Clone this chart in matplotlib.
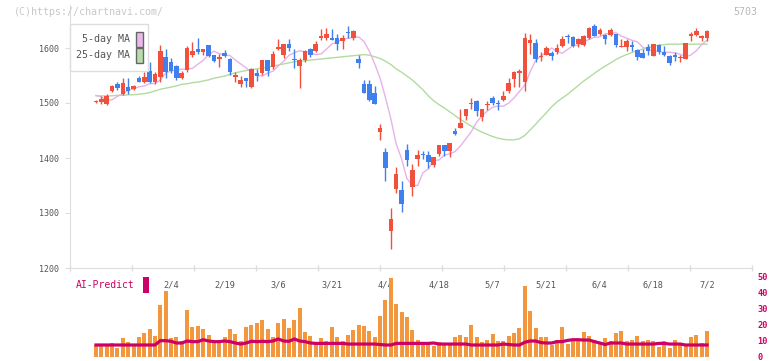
import numpy as np
import matplotlib.pyplot as plt
from matplotlib.patches import Rectangle

plt.rcParams['font.family'] = ['DejaVu Sans Mono']

# daily candles (yen), 2025/1/15 .. 2025/7/2
opens = [1502, 1502, 1498, 1522, 1534, 1516, 1529, 1525, 1545, 1539,
         1558, 1539, 1548, 1584, 1574, 1567, 1545, 1560, 1588, 1599,
         1592, 1605, 1587, 1580, 1591, 1580, 1547, 1535, 1546, 1530,
         1555, 1555, 1578, 1565, 1598, 1587, 1608, 1580, 1568, 1578,
         1599, 1594, 1619, 1619, 1619, 1619, 1613, 1629, 1619, 1580,
         1535, 1535, 1519, 1448, 1411, 1267, 1344, 1341, 1415, 1348,
         1398, 1407, 1405, 1387, 1408, 1424, 1413, 1449, 1455, 1476,
         1498, 1504, 1475, 1497, 1509, 1500, 1505, 1522, 1544, 1554,
         1539, 1610, 1610, 1584, 1588, 1591, 1592, 1604, 1621, 1620,
         1607, 1605, 1619, 1640, 1625, 1624, 1624, 1625, 1603, 1601,
         1605, 1596, 1590, 1601, 1586, 1605, 1592, 1586, 1588, 1581,
         1580, 1621, 1624, 1619, 1619]
highs = [1506, 1512, 1517, 1533, 1539, 1545, 1545, 1533, 1550, 1557,
         1574, 1557, 1605, 1598, 1581, 1570, 1558, 1604, 1611, 1619,
         1599, 1605, 1588, 1590, 1596, 1581, 1557, 1550, 1546, 1563,
         1561, 1579, 1579, 1595, 1617, 1607, 1616, 1598, 1582, 1596,
         1600, 1613, 1634, 1636, 1634, 1625, 1623, 1640, 1633, 1587,
         1542, 1542, 1531, 1461, 1418, 1310, 1384, 1358, 1425, 1389,
         1415, 1412, 1413, 1401, 1424, 1424, 1428, 1454, 1489, 1489,
         1510, 1505, 1489, 1504, 1513, 1505, 1522, 1546, 1558, 1561,
         1628, 1625, 1616, 1592, 1604, 1595, 1607, 1622, 1625, 1622,
         1618, 1623, 1638, 1644, 1636, 1626, 1636, 1625, 1616, 1616,
         1612, 1598, 1599, 1607, 1608, 1608, 1603, 1587, 1593, 1588,
         1610, 1630, 1636, 1624, 1633]
lows = [1500, 1499, 1496, 1520, 1524, 1515, 1516, 1523, 1538, 1537,
        1537, 1534, 1538, 1545, 1554, 1542, 1543, 1557, 1584, 1590,
        1587, 1584, 1575, 1566, 1583, 1551, 1539, 1530, 1530, 1528,
        1540, 1551, 1549, 1561, 1596, 1582, 1595, 1564, 1528, 1575,
        1584, 1593, 1615, 1615, 1615, 1596, 1598, 1618, 1615, 1564,
        1518, 1504, 1498, 1433, 1359, 1235, 1337, 1301, 1386, 1331,
        1386, 1398, 1382, 1384, 1404, 1404, 1402, 1442, 1454, 1469,
        1490, 1476, 1467, 1487, 1497, 1487, 1504, 1518, 1530, 1530,
        1522, 1590, 1575, 1577, 1588, 1578, 1590, 1602, 1609, 1602,
        1601, 1604, 1617, 1621, 1624, 1607, 1622, 1601, 1602, 1595,
        1595, 1578, 1581, 1588, 1586, 1589, 1585, 1570, 1577, 1575,
        1580, 1612, 1621, 1613, 1612]
closes = [1504, 1508, 1513, 1531, 1528, 1536, 1521, 1531, 1539, 1548,
          1539, 1552, 1595, 1557, 1558, 1545, 1555, 1600, 1595, 1592,
          1598, 1586, 1577, 1584, 1586, 1557, 1551, 1542, 1540, 1561,
          1550, 1579, 1559, 1589, 1601, 1607, 1600, 1578, 1579, 1595,
          1587, 1607, 1622, 1625, 1615, 1608, 1619, 1628, 1631, 1573,
          1519, 1505, 1498, 1455, 1382, 1289, 1371, 1316, 1396, 1378,
          1405, 1405, 1393, 1401, 1424, 1413, 1428, 1444, 1464, 1489,
          1500, 1485, 1489, 1498, 1500, 1499, 1513, 1537, 1556, 1558,
          1619, 1615, 1580, 1586, 1600, 1586, 1600, 1616, 1620, 1604,
          1616, 1622, 1636, 1622, 1633, 1616, 1632, 1605, 1604, 1613,
          1602, 1584, 1581, 1595, 1607, 1592, 1587, 1573, 1584, 1583,
          1610, 1625, 1630, 1622, 1630]

# moving averages as drawn on the chart
ma5 = [1514, 1511, 1505, 1506, 1512, 1516.8, 1523.2, 1525.8, 1529.4, 1531,
       1535, 1535.6, 1541.8, 1554.6, 1558.2, 1560.2, 1561.4, 1562, 1563, 1570.6,
       1577.4, 1588, 1594.2, 1589.6, 1587.4, 1586.2, 1578, 1571, 1564, 1555.2,
       1550.2, 1548.8, 1554.4, 1557.8, 1567.6, 1575.6, 1587, 1591.2, 1595, 1593,
       1591.8, 1587.8, 1589.2, 1598, 1607.2, 1611.2, 1615.4, 1617.8, 1619, 1620.2,
       1611.8, 1594, 1571.2, 1545.2, 1510, 1471.8, 1425.8, 1399, 1362.6, 1350.8,
       1350, 1373.2, 1380, 1395.4, 1396.4, 1405.6, 1407.2, 1411.8, 1422, 1434.6,
       1447.6, 1465, 1476.4, 1485.4, 1492.2, 1494.4, 1494.2, 1499.8, 1509.4, 1521,
       1532.6, 1556.6, 1577, 1585.6, 1591.6, 1600, 1593.4, 1590.4, 1597.6, 1604.4,
       1605.2, 1611.2, 1615.6, 1619.6, 1620, 1625.8, 1625.8, 1627.8, 1621.6, 1618,
       1614, 1611.2, 1601.6, 1596.8, 1595, 1593.8, 1591.8, 1592.4, 1590.8, 1588.6,
       1583.8, 1587.4, 1595, 1606.4, 1614]
ma25 = [1513, 1513, 1513, 1513, 1514, 1514, 1515, 1515, 1516, 1517,
        1519, 1522, 1525, 1527, 1529, 1531, 1534, 1535, 1537, 1538,
        1540, 1542, 1545, 1547, 1549, 1552, 1555, 1557, 1559, 1561,
        1562, 1564, 1565, 1567, 1569, 1571, 1573, 1575, 1576, 1577,
        1578, 1579, 1580, 1581, 1582, 1583, 1584, 1585, 1586, 1587,
        1588, 1587, 1584, 1581, 1576, 1570, 1562, 1556, 1549, 1542,
        1533, 1524, 1513, 1504, 1497, 1491, 1484, 1477, 1470, 1464,
        1458, 1452, 1447, 1443, 1439, 1436, 1434, 1433, 1433, 1435,
        1441, 1451, 1461, 1472, 1482, 1493, 1502, 1509, 1516, 1524,
        1532, 1540, 1547, 1554, 1561, 1567, 1573, 1579, 1584, 1588,
        1592, 1595, 1598, 1601, 1603, 1605, 1606, 1607, 1607, 1607,
        1607, 1607, 1607, 1607, 1607]

# lower panel
volume = [7.5, 6.7, 6.7, 8.75, 5.8, 11.9, 9.6, 6.7, 12.5, 15,
          17.5, 13.3, 32.5, 41.25, 11.9, 12.5, 10, 29.4, 18.75, 19.4,
          17.5, 13.75, 10, 10, 12.5, 17.5, 14.4, 10, 18.75, 20,
          21.25, 23.1, 17.5, 12.5, 21.25, 23.75, 18.1, 23.1, 30.6, 15.6,
          13.1, 8.75, 11.9, 10, 18.75, 12.5, 10, 13.75, 16.9, 20,
          19.4, 16.25, 12.5, 25.6, 35.6, 49.4, 33.1, 28.1, 25, 16.9,
          10.6, 7.5, 9.4, 6.9, 9.4, 7.5, 7.5, 12.5, 13.75, 12.5,
          20, 12.5, 9.4, 10.6, 14.4, 10, 10, 13.1, 15, 18.1,
          44.4, 28.75, 18.1, 12.5, 12.5, 7.5, 10.6, 18.75, 8.1, 10,
          10, 15.6, 13.1, 10.6, 8.75, 11.9, 10, 15, 16.25, 10,
          10.6, 13.1, 10, 10.6, 10, 6.25, 10, 5.4, 10.6, 7.5,
          7.5, 12.5, 13.75, 8.75, 16.25]
ai_predict = [7.5, 7.5, 7.5, 7.5, 7.5, 7.5, 7.5, 7.5, 7.5, 7.5,
              7.5, 7.5, 10.2, 10.2, 9.8, 8.75, 8.75, 10, 9.6, 9.6,
              10.8, 10, 9.6, 9.6, 10, 9.6, 8.75, 8.1, 8.75, 9.8,
              9.6, 9.8, 9.6, 10, 11.25, 10, 9.8, 11.25, 10, 9.6,
              8.75, 8.5, 8.5, 8.5, 8.5, 8.5, 8.5, 8.1, 8.1, 8.1,
              8.1, 8.1, 8.1, 7.8, 7.5, 7.5, 8.5, 8.5, 8.5, 8.5,
              8.5, 8.5, 8.5, 8.75, 8.1, 8.1, 8.1, 8.1, 8.1, 8.1,
              7.5, 7.5, 7.5, 7.5, 7.5, 7.5, 8.1, 7.8, 7.5, 7.5,
              9.2, 10, 10, 9, 8.75, 8.75, 9.6, 9.6, 10.4, 10.8,
              10.8, 10.6, 10.6, 9.6, 8.75, 7.8, 8.75, 8.75, 8.75, 8.1,
              8.1, 8.1, 8.1, 8.1, 8.1, 8.5, 8.5, 8.1, 8.1, 8.1,
              7.5, 7.5, 7.5, 7.5, 7.5]

date_labels = ['2/4', '2/19', '3/6', '3/21', '4/4', '4/18',
               '5/7', '5/21', '6/4', '6/18', '7/2']
label_start = 14   # candle index of 2/4, a label every 10 sessions

RED = '#f0503c'
BLUE = '#3f7fee'
GRID = '#dddddd'
TXT = '#555555'
CRIMSON = '#cc0066'

W, H = 772, 361
n = len(closes)
x = np.arange(n)
o = np.array(opens, float)
c = np.array(closes, float)
colors = np.where(c >= o, RED, BLUE)

# pixel -> candle index (first candle at x=96px, 5.36px apart)
def px2i(px):
    return (px - 96) / 5.36

fig = plt.figure(figsize=(W / 100, H / 100), dpi=100)
ax = fig.add_axes([70 / W, 93 / H, 682 / W, 263 / H])
axv = fig.add_axes([70 / W, 4 / H, 682 / W, 80 / H])
ax.patch.set_visible(False)
axv.patch.set_visible(False)
axv.set_zorder(2)   # volume bars sit over the date labels, as in the original

# price panel
ax.plot(x, ma25, color='#b2dba0', lw=1, zorder=1)
ax.plot(x, ma5, color='#e8b2e8', lw=1, zorder=1)
ax.vlines(x, lows, highs, colors=colors, lw=1, zorder=2)
body = np.maximum(np.abs(c - o), 1.6)
mid = (o + c) / 2
ax.bar(x, body, bottom=mid - body / 2, width=0.85, color=colors, lw=0, zorder=3)

ax.set_xlim(px2i(70), px2i(752))
ax.set_ylim(1200, 1200 + 263 / 0.55)
for s in ['top', 'right']:
    ax.spines[s].set_visible(False)
for s in ['left', 'bottom']:
    ax.spines[s].set_color(GRID)
ax.set_yticks([1200, 1300, 1400, 1500, 1600])
ax.tick_params(axis='y', length=3.6, color=GRID, labelcolor=TXT, labelsize=6, pad=4)
ax.set_xticks([label_start + 10 * k for k in range(len(date_labels))])
ax.set_xticklabels(date_labels)
ax.set_xticks([px2i(70 + 62 * k) for k in range(12)], minor=True)
ax.tick_params(axis='x', which='major', length=0, labelcolor=TXT, labelsize=6.2, pad=9)
ax.tick_params(axis='x', which='minor', length=4, direction='inout', color=GRID, width=1)

# volume panel
axv.bar(x, volume, width=0.75, color='#f2973e', lw=0)
axv.plot(x, ai_predict, color=CRIMSON, lw=2.3, solid_joinstyle='miter')
axv.set_xlim(px2i(70), px2i(752))
axv.set_ylim(0, 50)
for s in axv.spines.values():
    s.set_visible(False)
axv.set_xticks([])
axv.yaxis.tick_right()
axv.set_yticks([0, 10, 20, 30, 40, 50])
axv.tick_params(axis='y', length=0, labelcolor=CRIMSON, labelsize=6.2, pad=4)
for t in axv.get_yticklabels():
    t.set_fontweight('bold')

fig.text(76 / W, 1 - 285 / H, 'AI-Predict', color=CRIMSON, fontsize=7, va='center')
fig.add_artist(Rectangle((143 / W, 1 - 293 / H), 6 / W, 16 / H,
                         transform=fig.transFigure, color=CRIMSON, lw=0))

# legend box
fig.add_artist(Rectangle((70 / W, 1 - 71 / H), 78 / W, 47 / H, transform=fig.transFigure,
                         facecolor='white', edgecolor=GRID, lw=1, zorder=5))
for yy, name, fc in [(39.5, '5-day MA', '#eab8ea'), (55.5, '25-day MA', '#b8dcaa')]:
    fig.text(130 / W, 1 - yy / H, name, color=TXT, fontsize=7.2, ha='right', va='center', zorder=6)
    fig.add_artist(Rectangle((136 / W, 1 - (yy + 7.5) / H), 7 / W, 15 / H, transform=fig.transFigure,
                             facecolor=fc, edgecolor='#666666', lw=1, zorder=6))

fig.text(14 / W, 1 - 12 / H, '(C)https://chartnavi.com/', color='#c8c8c8', fontsize=7.2, va='center')
fig.text(757 / W, 1 - 12 / H, '5703', color='#b8b8b8', fontsize=7.2, ha='right', va='center')

fig.savefig('out.png', dpi=100)
